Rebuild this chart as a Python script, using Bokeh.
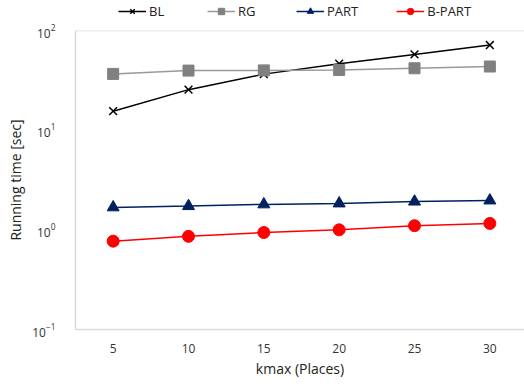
from bokeh.plotting import figure
from bokeh.models import Legend, LegendItem, FixedTicker, Span
from bokeh.layouts import column
from bokeh.embed import file_html
from bokeh.resources import INLINE

kmax = [5, 10, 15, 20, 25, 30]
bl = [15.5, 25.5, 36.5, 46.5, 57.5, 71.5]
rg = [36.7, 39.6, 39.8, 40.2, 41.8, 43.5]
part = [1.68, 1.73, 1.80, 1.84, 1.92, 1.97]
bpart = [0.77, 0.86, 0.94, 1.00, 1.10, 1.16]
labels = ["BL", "RG", "PART", "B-PART"]

FONT = "Open Sans"
styles = [
    dict(color="black", lcolor="black", marker="x", size=11),
    dict(color="#808080", lcolor="#999999", marker="square", size=11),
    dict(color="#002060", lcolor="#002060", marker="triangle", size=12),
    dict(color="#ff0000", lcolor="#ff0000", marker="circle", size=12),
]
series = [bl, rg, part, bpart]

p = figure(width=524, height=368, y_axis_type="log",
           x_range=(2.5, 32.3), y_range=(0.1, 100),
           output_backend="svg", toolbar_location=None,
           min_border_left=75, min_border_right=0, min_border_top=10, min_border_bottom=59)
p.outline_line_color = None
p.grid.visible = False
p.add_layout(Span(location=100, dimension="width", line_color="#d9d9d9", line_width=1.5))

for ys, st in zip(series, styles):
    p.line(kmax, ys, line_color=st["lcolor"], line_width=1.5)
    p.scatter(kmax, ys, marker=st["marker"], size=st["size"], fill_color=st["color"],
              line_color=st["color"], line_width=1.5 if st["marker"] == "x" else 1)

# legend strip above the plot
lg = figure(width=524, height=20, x_range=(0, 1), y_range=(0, 1),
            output_backend="svg", toolbar_location=None,
            x_axis_location=None, y_axis_location=None,
            min_border_left=0, min_border_right=0, min_border_top=0, min_border_bottom=0)
lg.outline_line_color = None
lg.grid.visible = False
items = []
for lab, st in zip(labels, styles):
    rl = lg.line([-10, -9], [-10, -9], line_color=st["lcolor"], line_width=1.5)
    rm = lg.scatter([-10], [-10], marker=st["marker"], size=st["size"] - 1, fill_color=st["color"],
                    line_color=st["color"], line_width=1.5 if st["marker"] == "x" else 1)
    items.append(LegendItem(label=lab, renderers=[rl, rm]))
legend = Legend(items=items, orientation="horizontal", location=(43, 0))
legend.border_line_color = None
legend.background_fill_alpha = 0
legend.label_text_font = FONT
legend.label_text_font_size = "13px"
legend.label_text_color = "#222222"
legend.glyph_width = 28
legend.glyph_height = 16
legend.label_standoff = 3
legend.spacing = 38
legend.padding = 2
legend.margin = 0
legend.label_height = 16
lg.add_layout(legend)

p.xaxis.ticker = FixedTicker(ticks=kmax)
p.yaxis.ticker = FixedTicker(ticks=[0.1, 1, 10, 100])
for ax in (p.xaxis[0], p.yaxis[0]):
    ax.axis_line_color = "#d9d9d9"
    ax.axis_line_width = 1.5
    ax.major_tick_line_color = None
    ax.minor_tick_line_color = None
    ax.major_label_text_font = FONT
    ax.major_label_text_font_size = "12px"
    ax.major_label_text_color = "#333333"
    ax.axis_label_text_font = FONT
    ax.axis_label_text_font_size = "14px"
    ax.axis_label_text_font_style = "normal"
    ax.axis_label_text_color = "#222222"

p.xaxis.axis_label = "kmax (Places)"
p.yaxis.axis_label = "Running time [sec]"
p.xaxis.major_label_standoff = 8
p.yaxis.major_label_standoff = 14
p.xaxis.axis_label_standoff = 3
p.yaxis.axis_label_standoff = 4

layout = column(lg, p, spacing=0)
open("out.html", "w").write(file_html(layout, INLINE))
